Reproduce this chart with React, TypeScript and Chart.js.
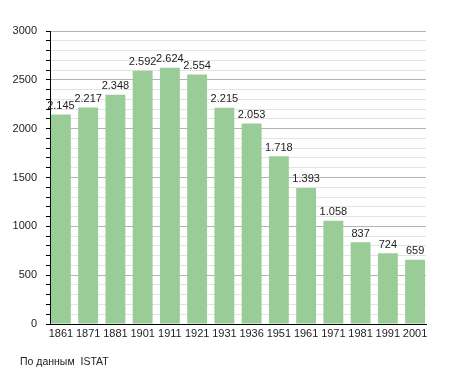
import React, { useEffect, useRef } from "react";
import { Chart, registerables } from "chart.js";

Chart.register(...registerables);

const categories = ["1861", "1871", "1881", "1901", "1911", "1921", "1931", "1936", "1951", "1961", "1971", "1981", "1991", "2001"];
const population = [2145, 2217, 2348, 2592, 2624, 2554, 2215, 2053, 1718, 1393, 1058, 837, 724, 659];
const yMax = 3000;
const yStep = 100;
const labelStep = 500;
const footnote = "По данным  ISTAT";

const fmt = (v: number) => {
  const s = String(v);
  return s.length > 3 ? s.slice(0, s.length - 3) + "." + s.slice(-3) : s;
};

const FONT = "'Liberation Sans', Arial, sans-serif";

const valueLabels = {
  id: "valueLabels",
  afterDatasetsDraw(chart: any) {
    const ctx = chart.ctx;
    const meta = chart.getDatasetMeta(0);
    ctx.save();
    ctx.font = "11px " + FONT;
    ctx.fillStyle = "#222";
    ctx.textAlign = "center";
    ctx.textBaseline = "bottom";
    meta.data.forEach((bar: any, i: number) => {
      ctx.fillText(fmt(population[i]), bar.x, bar.y - 3);
    });
    ctx.restore();
  },
};

export default function App() {
  const ref = useRef<HTMLCanvasElement>(null);
  useEffect(() => {
    const chart = new Chart(ref.current!, {
      type: "bar",
      data: {
        datasets: [
          {
            data: population.map((y, i) => ({ x: i, y })),
            backgroundColor: "#99cc96",
            borderWidth: 0,
            categoryPercentage: 1,
            barPercentage: 0.73,
          },
        ],
      },
      options: {
        animation: false,
        responsive: false,
        layout: { padding: { top: 31, right: 29, left: 0, bottom: 0 } },
        plugins: { legend: { display: false }, tooltip: { enabled: false } },
        scales: {
          x: {
            type: "linear",
            min: -0.4,
            max: categories.length - 1 + 0.4,
            offset: false,
            grid: { display: false, drawTicks: false },
            border: { color: "#000", width: 1 },
            afterBuildTicks: (s: any) => {
              s.ticks = categories.map((_, i) => ({ value: i }));
            },
            ticks: {
              color: "#222",
              font: { size: 11, family: FONT },
              padding: 3,
              maxRotation: 0,
              autoSkip: false,
              callback: (v: any) => categories[Math.round(Number(v))] ?? "",
            },
            afterFit: (s: any) => {
              s.height = 49;
            },
          },
          y: {
            min: 0,
            max: yMax,
            border: { color: "#000", width: 1 },
            grid: {
              color: (c: any) => (c.tick && c.tick.value % labelStep === 0 ? "#b4b4b4" : "#e4e4e4"),
              tickColor: "#000",
              tickLength: 4,
              lineWidth: 1,
            },
            ticks: {
              stepSize: yStep,
              autoSkip: false,
              color: "#222",
              font: { size: 11, family: FONT },
              padding: 9,
              callback: (v: any) => (Number(v) % labelStep === 0 ? String(v) : ""),
            },
            afterFit: (s: any) => {
              s.width = 50;
            },
          },
        },
      },
      plugins: [valueLabels],
    });
    return () => chart.destroy();
  }, []);
  return (
    <div style={{ position: "absolute", left: 0, top: 0, width: 455, height: 373, background: "#fff" }}>
      <canvas ref={ref} width={455} height={373} style={{ width: 455, height: 373, display: "block" }} />
      <div
        style={{
          position: "absolute",
          left: 20,
          top: 355,
          font: "10.5px " + FONT,
          color: "#222",
          whiteSpace: "pre",
        }}
      >
        {footnote}
      </div>
    </div>
  );
}
